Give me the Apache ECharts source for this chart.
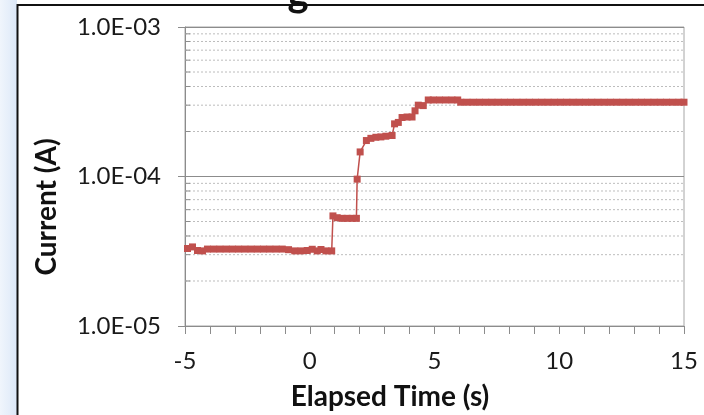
<!DOCTYPE html>
<html>
<head>
<meta charset="utf-8">
<script src="https://cdn.jsdelivr.net/npm/echarts@6/dist/echarts.min.js"></script>
<style>
  html, body { margin: 0; padding: 0; background: #fff; }
  #chart { width: 704px; height: 415px; }
</style>
</head>
<body>
<div id="chart"></div>
<script>
// elapsed time (s) and measured current (A)
const times = [
  -4.9, -4.7, -4.5, -4.3, -4.1, -3.85, -3.6, -3.35, -3.1, -2.85, -2.6, -2.35, -2.1,
  -1.85, -1.6, -1.35, -1.1, -0.85, -0.6, -0.35, -0.1, 0.1, 0.3, 0.45, 0.65, 0.88,
  0.93, 1.1, 1.3, 1.5, 1.7, 1.87,
  1.9, 2.02, 2.27, 2.45, 2.65, 2.85, 3.05, 3.3,
  3.4, 3.55, 3.7, 3.9, 4.1, 4.22, 4.35, 4.55, 4.75, 4.95, 5.2, 5.45, 5.7, 5.93,
  6.05, 6.3, 6.55, 6.8, 7.05, 7.3, 7.55, 7.8, 8.05, 8.3, 8.55, 8.8, 9.05, 9.3,
  9.55, 9.8, 10.05, 10.3, 10.55, 10.8, 11.05, 11.3, 11.55, 11.8, 12.05, 12.3,
  12.55, 12.8, 13.05, 13.3, 13.55, 13.8, 14.05, 14.3, 14.55, 14.8, 15.0
]
const currents = [
  3.3e-5, 3.38e-5, 3.2e-5, 3.18e-5, 3.27e-5, 3.27e-5, 3.27e-5, 3.27e-5, 3.27e-5, 3.27e-5, 3.27e-5, 3.27e-5, 3.27e-5,
  3.27e-5, 3.27e-5, 3.27e-5, 3.27e-5, 3.24e-5, 3.18e-5, 3.18e-5, 3.2e-5, 3.26e-5, 3.18e-5, 3.25e-5, 3.18e-5, 3.18e-5,
  5.45e-5, 5.3e-5, 5.25e-5, 5.25e-5, 5.25e-5, 5.25e-5,
  9.6e-5, 1.46e-4, 1.74e-4, 1.8e-4, 1.83e-4, 1.84e-4, 1.86e-4, 1.88e-4,
  2.25e-4, 2.3e-4, 2.48e-4, 2.5e-4, 2.5e-4, 2.75e-4, 3.0e-4, 2.98e-4, 3.25e-4, 3.25e-4, 3.25e-4, 3.25e-4, 3.25e-4, 3.25e-4,
  3.14e-4, 3.14e-4, 3.14e-4, 3.14e-4, 3.14e-4, 3.14e-4, 3.14e-4, 3.14e-4, 3.14e-4, 3.14e-4, 3.14e-4, 3.14e-4, 3.14e-4, 3.14e-4,
  3.14e-4, 3.14e-4, 3.14e-4, 3.14e-4, 3.14e-4, 3.14e-4, 3.14e-4, 3.14e-4, 3.14e-4, 3.14e-4, 3.14e-4, 3.14e-4,
  3.14e-4, 3.14e-4, 3.14e-4, 3.14e-4, 3.14e-4, 3.14e-4, 3.14e-4, 3.14e-4, 3.14e-4, 3.14e-4, 3.14e-4
]
// minor log gridlines (2..9 in each decade)
const minorLevels = [
  2e-5, 3e-5, 4e-5, 5e-5, 6e-5, 7e-5, 8e-5, 9e-5,
  2e-4, 3e-4, 4e-4, 5e-4, 6e-4, 7e-4, 8e-4, 9e-4
]
const yTickLabels = { '-5': '1.0E-05', '-4': '1.0E-04', '-3': '1.0E-03' }
const xTickLabels = ['-5', '0', '5', '10', '15']
const xMin = -5
const xMax = 15

const chart = echarts.init(document.getElementById('chart'))
const font = 'Lato, "Liberation Sans", sans-serif'

// dotted minor gridlines, one short series per level
const minorSeries = minorLevels.map(v => ({
  type: 'line',
  data: [[xMin, v], [xMax, v]],
  symbol: 'none',
  silent: true,
  z: 1,
  lineStyle: { color: '#bdbdbd', type: [2, 2], width: 1 }
}))
// little inside ticks on the y axis at the minor levels
const minorTickSeries = minorLevels.map(v => ({
  type: 'line',
  data: [[xMin, v], [xMin + 0.2, v]],
  symbol: 'none',
  silent: true,
  z: 1,
  lineStyle: { color: '#8c8c8c', width: 1 }
}))

chart.setOption({
  animation: false,
  grid: {
    left: 185, right: 20, top: 27, bottom: 89,
    show: true, borderColor: '#a6a6a6', borderWidth: 1
  },
  xAxis: {
    type: 'value', min: xMin, max: xMax, interval: 5,
    axisLine: { onZero: false, lineStyle: { color: '#8c8c8c', width: 1 } },
    axisTick: { length: 8, lineStyle: { color: '#8c8c8c' } },
    minorTick: { show: true, splitNumber: 5, length: 8, lineStyle: { color: '#8c8c8c' } },
    splitLine: { show: false },
    axisLabel: {
      margin: 23, fontSize: 24, fontFamily: font, color: '#1a1a1a',
      formatter: (v, i) => xTickLabels[i]
    }
  },
  yAxis: {
    type: 'log', logBase: 10, min: 1e-5, max: 1e-3,
    axisLine: { show: true, onZero: false, lineStyle: { color: '#8c8c8c', width: 1 } },
    axisTick: { show: true, length: 7, lineStyle: { color: '#8c8c8c' } },
    splitLine: { show: true, lineStyle: { color: '#8c8c8c', width: 1 } },
    axisLabel: {
      margin: 24, fontSize: 24, fontFamily: font, color: '#1a1a1a',
      formatter: v => yTickLabels[String(Math.round(Math.log10(v)))]
    }
  },
  graphic: [
    {
      type: 'rect', shape: { x: 0, y: 0, width: 17, height: 415 },
      style: {
        fill: new echarts.graphic.LinearGradient(0, 0, 1, 0, [
          { offset: 0, color: '#f0f5fc' }, { offset: 1, color: '#dce8f8' }
        ])
      }
    },
    {
      type: 'text', x: 298, y: -27,
      style: { text: 'g', font: 'bold 40px ' + font, fill: '#111', textAlign: 'center' }
    },
    {
      type: 'line', shape: { x1: 17, y1: 5, x2: 704, y2: 5 },
      style: { stroke: '#111', lineWidth: 2 }
    },
    {
      type: 'line', shape: { x1: 17.5, y1: 4, x2: 17.5, y2: 415 },
      style: { stroke: '#111', lineWidth: 2 }
    },
    {
      type: 'text', x: 47, y: 207, rotation: Math.PI / 2,
      style: {
        text: 'Current (A)', font: 'bold 28px ' + font, fill: '#111',
        textAlign: 'center', textVerticalAlign: 'middle'
      }
    },
    {
      type: 'text', x: 390, y: 397,
      style: {
        text: 'Elapsed Time (s)', font: 'bold 28px ' + font, fill: '#111',
        textAlign: 'center', textVerticalAlign: 'middle'
      }
    }
  ],
  series: minorSeries.concat(minorTickSeries, [
    {
      type: 'line',
      data: times.map((t, i) => [t, currents[i]]),
      symbol: 'rect',
      symbolSize: 7,
      clip: false,
      z: 3,
      itemStyle: { color: '#c0504d' },
      lineStyle: { color: '#c0504d', width: 1.5 }
    }
  ])
})
</script>
</body>
</html>
